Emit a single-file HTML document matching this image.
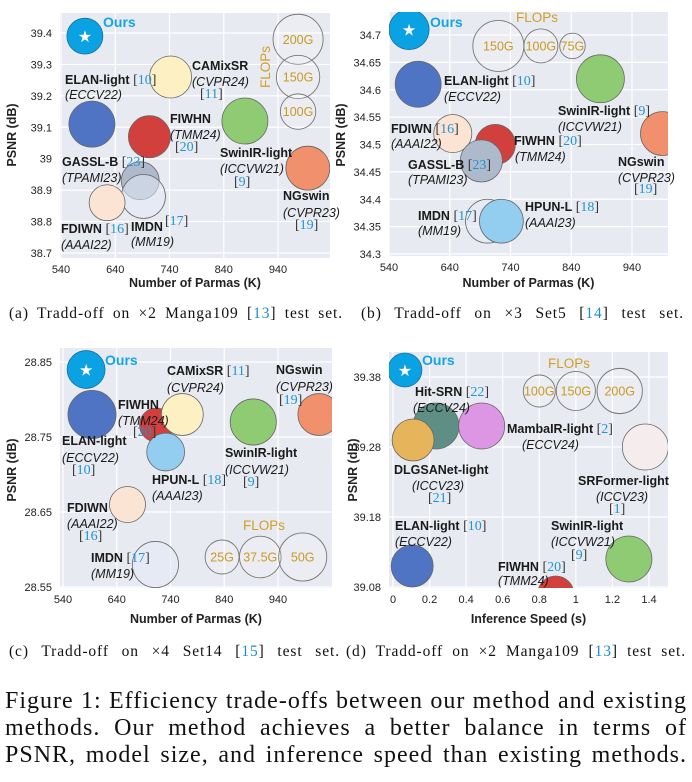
<!DOCTYPE html>
<html><head><meta charset="utf-8"><style>
html,body{margin:0;padding:0;background:#fff;}
#wrap{position:relative;width:692px;height:782px;overflow:hidden;}
svg{display:block;position:absolute;left:0;top:0;}
.tk{font-family:"Liberation Sans",sans-serif;font-size:11px;fill:#222;}
.at{font-family:"Liberation Sans",sans-serif;font-size:12.5px;font-weight:bold;fill:#222;}
.lb{font-family:"Liberation Sans",sans-serif;font-size:12.5px;fill:#1a1a1a;}
.jl{position:absolute;font-family:"Liberation Serif",serif;color:#111;text-align:justify;text-align-last:justify;white-space:normal;}
.jl span.b{color:#1a8fd0;}
.sub{font-size:15.5px;height:18px;line-height:18px;letter-spacing:0.9px;}
.big{font-size:24px;height:27px;line-height:27px;left:5px;width:682px;letter-spacing:1px;}
</style></head><body>
<div id="wrap">
<svg id="fig" width="692" height="782" viewBox="0 0 692 782" xmlns="http://www.w3.org/2000/svg">
<defs>
<clipPath id="clipA"><rect x="60" y="13" width="270" height="245"/></clipPath>
<clipPath id="clipB"><rect x="389" y="12" width="279" height="244"/></clipPath>
<clipPath id="clipC"><rect x="60" y="348" width="272" height="240"/></clipPath>
<clipPath id="clipD"><rect x="389" y="352" width="279" height="236"/></clipPath>
</defs>
</svg>
<div class="jl sub" style="left:9px;top:305px;width:334px">(a) Tradd-off on ×2 Manga109 [<span class="b">13</span>] test set.</div>
<div class="jl sub" style="left:361px;top:305px;width:323px">(b) Tradd-off on ×3 Set5 [<span class="b">14</span>] test set.</div>
<div class="jl sub" style="left:9px;top:643px;width:331px">(c) Tradd-off on ×4 Set14 [<span class="b">15</span>] test set.</div>
<div class="jl sub" style="left:346px;top:643px;width:340px">(d) Tradd-off on ×2 Manga109 [<span class="b">13</span>] test set.</div>
<div class="jl big" style="top:688px">Figure 1: Efficiency trade-offs between our method and existing</div>
<div class="jl big" style="top:715px">methods. Our method achieves a better balance in terms of</div>
<div class="jl big" style="top:742px">PSNR, model size, and inference speed than existing methods.</div>
</div>
<script>
// ---- Panel (a): x2 Manga109, params vs PSNR ----
const aNames=["Ours","ELAN-light","CAMixSR","FIWHN","SwinIR-light","NGswin","GASSL-B","IMDN","FDIWN"];
const aParams=[584,597,742,703,879,995,686,692,625];
const aPSNR=[39.39,39.11,39.26,39.07,39.12,38.97,38.93,38.88,38.86];
const aFlops=[103,169,141,141,169,154,115,154,103];
const aLegendFlops=[200,150,100];
const aLegendX=[977,977,977];
const aLegendY=[39.38,39.26,39.15];
const aXTicks=[540,640,740,840,940];
const aYTicks=[38.7,38.8,38.9,39,39.1,39.2,39.3,39.4];
const aYTickLabels=["38.7","38.8","38.9","39","39.1","39.2","39.3","39.4"];
// ---- Panel (b): x3 Set5 ----
const bNames=["Ours","ELAN-light","SwinIR-light","NGswin","FDIWN","FIWHN","GASSL-B","IMDN","HPUN-L"];
const bParams=[573,588,888,990,645,715,692,702,725];
const bPSNR=[34.71,34.61,34.62,34.52,34.52,34.50,34.47,34.36,34.36];
const bFlops=[118,135,141,129,112,118,124,129,129];
const bLegendFlops=[150,100,75];
const bLegendX=[720,790,842];
const bLegendY=[34.68,34.68,34.68];
const bXTicks=[540,640,740,840,940];
const bYTicks=[34.3,34.35,34.4,34.45,34.5,34.55,34.6,34.65,34.7];
const bYTickLabels=["34.3","34.35","34.4","34.45","34.5","34.55","34.6","34.65","34.7"];
// ---- Panel (c): x4 Set14 ----
const cNames=["Ours","ELAN-light","FIWHN","HPUN-L","CAMixSR","SwinIR-light","NGswin","FDIWN","IMDN"];
const cParams=[583,594,714,731,762,894,1016,660,712];
const cPSNR=[28.84,28.78,28.766,28.73,28.78,28.77,28.78,28.66,28.58];
const cFlops=[31,50,25,31,38,46,38,28,46];
const cLegendFlops=[25,37.5,50];
const cLegendX=[836,907,986];
const cLegendY=[28.59,28.59,28.59];
const cXTicks=[540,640,740,840,940];
const cYTicks=[28.55,28.65,28.75,28.85];
const cYTickLabels=["28.55","28.65","28.75","28.85"];
// ---- Panel (d): x2 Manga109, inference speed ----
const dNames=["Ours","Hit-SRN","DLGSANet-light","MambaIR-light","SRFormer-light","ELAN-light","SwinIR-light","FIWHN"];
const dSpeed=[0.065,0.235,0.11,0.485,1.38,0.105,1.29,0.89];
const dPSNR=[39.39,39.31,39.29,39.31,39.28,39.11,39.12,39.07];
const dFlops=[113,207,172,207,207,172,207,127];
const dLegendFlops=[100,150,200];
const dLegendX=[0.80,1.0,1.24];
const dLegendY=[39.36,39.36,39.36];
const dXTicks=[0,0.2,0.4,0.6,0.8,1,1.2,1.4];
const dYTicks=[39.08,39.18,39.28,39.38];
const dYTickLabels=["39.08","39.18","39.28","39.38"];

const NS="http://www.w3.org/2000/svg";
const svg=document.getElementById('fig');
function mk(tag,attrs,parent){const e=document.createElementNS(NS,tag);for(const k in attrs)e.setAttribute(k,attrs[k]);(parent||svg).appendChild(e);return e;}
function lin(d0,p0,d1,p1){return v=>p0+(v-d0)*(p1-p0)/(d1-d0);}

const fillMap={"Ours":"#0aa2e2","ELAN-light":"#4f74c4","CAMixSR":"#fdf0c2","FIWHN":"#d2403e","SwinIR-light":"#8fcb72","NGswin":"#f0906c","GASSL-B":"#aebacb","IMDN":"rgba(225,233,245,0.55)","FDIWN":"#fbe4d4","HPUN-L":"#93cdef","Hit-SRN":"#5f8f84","DLGSANet-light":"#e6b45a","MambaIR-light":"#dc96e4","SRFormer-light":"#f5eded"};

function panel(p){
  const g=mk('g',{});
  
  
  const bg=mk('rect',{x:p.box[0],y:p.box[1],width:p.box[2]-p.box[0],height:p.box[3]-p.box[1],fill:'#e8eaf1'},g);
  
  
  p.xt.forEach((t,i)=>{
    const x=p.xs(t);
    const l=mk('line',{x1:x,x2:x,y1:p.box[1],y2:p.box[3],stroke:'#fff','stroke-width':1.2},g);
    
    
    const tx=mk('text',{x:x,y:p.box[3]+15,'text-anchor':'middle',class:'tk'},g);
    tx.textContent=p.xtl[i];
    
    
  });
  p.yt.forEach((t,i)=>{
    const y=p.ys(t);
    const l=mk('line',{x1:p.box[0],x2:p.box[2],y1:y,y2:y,stroke:'#fff','stroke-width':1.2},g);
    
    
    const tx=mk('text',{x:p.box[0]-8,y:y+4,'text-anchor':'end',class:'tk'},g);
    tx.textContent=p.ytl[i];
    
    
  });
  const xt=mk('text',{x:(p.box[0]+p.box[2])/2,y:p.xTitleY,'text-anchor':'middle',class:'at'},g);
  xt.textContent=p.xTitle;
  
  
  const yt=mk('text',{x:0,y:0,'text-anchor':'middle',class:'at',transform:`translate(${p.yTitleX},${p.yTitleY}) rotate(-90)`},g);
  yt.textContent='PSNR (dB)';
  
  
  const cg=mk('g',{'clip-path':`url(#${p.clip})`},g);
  p.lf.forEach((f,i)=>{
    const cx=p.xs(p.lx[i]),cy=p.ys(p.ly[i]);
    const c=mk('circle',{cx:cx,cy:cy,r:p.r(f),fill:'rgba(255,255,255,0.15)',stroke:'#777','stroke-width':0.9},cg);
    
    
    const t=mk('text',{x:cx,y:cy+4.5,'text-anchor':'middle',fill:'#c99a22','font-family':'Liberation Sans, sans-serif','font-size':12.5},g);
    t.textContent=f+'G';
    
    
  });
  p.names.forEach((n,i)=>{
    const cx=p.xs(p.xv[i]),cy=p.ys(p.yv[i]);
    const c=mk('circle',{cx:cx,cy:cy,r:p.r(p.f[i]),fill:fillMap[n],stroke:n==='Ours'?'#1a6f9a':'#666','stroke-width':0.8},cg);
    
    
    if(n==='Ours'){
      const s=mk('text',{x:cx,y:cy+6,'text-anchor':'middle',fill:'#fff','font-family':'DejaVu Sans, sans-serif','font-size':16},cg);
      s.textContent='★';
      
      
    }
  });
}

panel({id:'panel-a',box:[60,13,330,258],xs:lin(540,61,940,278),ys:lin(39.4,33,38.7,253),xt:aXTicks,xtl:aXTicks.map(String),yt:aYTicks,ytl:aYTickLabels,
  xTitle:'Number of Parmas (K)',xTitleY:287,yTitleX:16,yTitleY:135,clip:'clipA',
  lf:aLegendFlops,lx:aLegendX,ly:aLegendY,names:aNames,xv:aParams,yv:aPSNR,f:aFlops,r:f=>1.77*Math.sqrt(f)});
panel({id:'panel-b',box:[389,12,668,256],xs:lin(540,389,940,632),ys:lin(34.7,35,34.3,254),xt:bXTicks,xtl:bXTicks.map(String),yt:bYTicks,ytl:bYTickLabels,
  xTitle:'Number of Parmas (K)',xTitleY:287,yTitleX:345,yTitleY:135,clip:'clipB',
  lf:bLegendFlops,lx:bLegendX,ly:bLegendY,names:bNames,xv:bParams,yv:bPSNR,f:bFlops,r:f=>0.17*f});
panel({id:'panel-c',box:[60,348,332,588],xs:lin(540,63,940,278),ys:lin(28.85,362,28.55,587),xt:cXTicks,xtl:cXTicks.map(String),yt:cYTicks,ytl:cYTickLabels,
  xTitle:'Number of Parmas (K)',xTitleY:623,yTitleX:16,yTitleY:470,clip:'clipC',
  lf:cLegendFlops,lx:cLegendX,ly:cLegendY,names:cNames,xv:cParams,yv:cPSNR,f:cFlops,r:f=>3.4*Math.sqrt(f)});
panel({id:'panel-d',box:[389,352,668,588],xs:lin(0,393,1.4,649),ys:lin(39.38,377,39.08,587),xt:dXTicks,xtl:dXTicks.map(String),yt:dYTicks,ytl:dYTickLabels,
  xTitle:'Inference Speed (s)',xTitleY:623,yTitleX:357,yTitleY:470,clip:'clipD',
  lf:dLegendFlops,lx:dLegendX,ly:dLegendY,names:dNames,xv:dSpeed,yv:dPSNR,f:dFlops,r:f=>1.6*Math.sqrt(f)});

function lab(x,y,parts){
  const t=mk('text',{x:x,y:y,class:'lb'});
  
  
  parts.forEach(p=>{
    if(p[0]==='c'){
      const a=mk('tspan',{'font-family':'Liberation Serif, serif','font-size':14,fill:'#333'},t);a.textContent=' [';
      const b=mk('tspan',{'font-family':'Liberation Serif, serif','font-size':14,fill:'#1e95d4'},t);b.textContent=p[1];
      const c=mk('tspan',{'font-family':'Liberation Serif, serif','font-size':14,fill:'#333'},t);c.textContent=']';
    }else{
      const s=mk('tspan',p[0]==='b'?{'font-weight':'bold'}:{'font-style':'italic'},t);s.textContent=p[1];
    }
  });
}
function ours(x,y){const t=mk('text',{x:x,y:y,fill:'#13a5e3','font-family':'Liberation Sans, sans-serif','font-size':14,'font-weight':'bold'});t.textContent='Ours';

}
function flopsT(x,y,rot){const t=mk('text',{x:0,y:0,fill:'#cf9f25','font-family':'Liberation Sans, sans-serif','font-size':13.5,transform:`translate(${x},${y})`+(rot?' rotate(-90)':'')});t.textContent='FLOPs';

}
// a
ours(103,27);flopsT(270,88,true);
lab(65,84,[['b','ELAN-light'],['c','10']]);lab(65,99,[['i','(ECCV22)']]);
lab(192,70,[['b','CAMixSR']]);lab(192,86,[['i','(CVPR24)']]);lab(200,98,[['c','11']]);
lab(170,123,[['b','FIWHN']]);lab(170,139,[['i','(TMM24)']]);lab(175,151,[['c','20']]);
lab(220,157,[['b','SwinIR-light']]);lab(220,173,[['i','(ICCVW21)']]);lab(234,186,[['c','9']]);
lab(283,200,[['b','NGswin']]);lab(283,217,[['i','(CVPR23)']]);lab(295,229,[['c','19']]);
lab(62,166,[['b','GASSL-B'],['c','23']]);lab(62,182,[['i','(TPAMI23)']]);
lab(61,233,[['b','FDIWN'],['c','16']]);lab(61,249,[['i','(AAAI22)']]);
lab(131,231,[['b','IMDN']]);lab(131,246,[['i','(MM19)']]);lab(165,225,[['c','17']]);
// b
ours(430,27);flopsT(516,22,false);
lab(444,85,[['b','ELAN-light'],['c','10']]);lab(444,101,[['i','(ECCV22)']]);
lab(558,115,[['b','SwinIR-light'],['c','9']]);lab(558,131,[['i','(ICCVW21)']]);
lab(618,166,[['b','NGswin']]);lab(618,182,[['i','(CVPR23)']]);lab(634,193,[['c','19']]);
lab(391,133,[['b','FDIWN'],['c','16']]);lab(391,148,[['i','(AAAI22)']]);
lab(514,145,[['b','FIWHN'],['c','20']]);lab(515,161,[['i','(TMM24)']]);
lab(408,169,[['b','GASSL-B'],['c','23']]);lab(408,184,[['i','(TPAMI23)']]);
lab(418,220,[['b','IMDN'],['c','17']]);lab(418,235,[['i','(MM19)']]);
lab(525,211,[['b','HPUN-L'],['c','18']]);lab(525,227,[['i','(AAAI23)']]);
// c
ours(105,365);flopsT(243,530,false);
lab(167,375,[['b','CAMixSR'],['c','11']]);lab(167,392,[['i','(CVPR24)']]);
lab(276,374,[['b','NGswin']]);lab(276,391,[['i','(CVPR23)']]);lab(279,404,[['c','19']]);
lab(118,409,[['b','FIWHN']]);lab(118,425,[['i','(TMM24)']]);lab(133,436,[['c','20']]);
lab(62,445,[['b','ELAN-light']]);lab(62,462,[['i','(ECCV22)']]);lab(72,474,[['c','10']]);
lab(225,457,[['b','SwinIR-light']]);lab(225,474,[['i','(ICCVW21)']]);lab(243,486,[['c','9']]);
lab(152,484,[['b','HPUN-L'],['c','18']]);lab(152,500,[['i','(AAAI23)']]);
lab(67,512,[['b','FDIWN']]);lab(67,528,[['i','(AAAI22)']]);lab(79,540,[['c','16']]);
lab(91,562,[['b','IMDN'],['c','17']]);lab(91,578,[['i','(MM19)']]);
// d
ours(422,365);flopsT(548,368,false);
lab(415,396,[['b','Hit-SRN'],['c','22']]);lab(413,412,[['i','(ECCV24)']]);
lab(507,433,[['b','MambaIR-light'],['c','2']]);lab(522,449,[['i','(ECCV24)']]);
lab(394,474,[['b','DLGSANet-light']]);lab(412,490,[['i','(ICCV23)']]);lab(428,502,[['c','21']]);
lab(578,485,[['b','SRFormer-light']]);lab(596,501,[['i','(ICCV23)']]);lab(609,513,[['c','1']]);
lab(395,530,[['b','ELAN-light'],['c','10']]);lab(395,546,[['i','(ECCV22)']]);
lab(551,530,[['b','SwinIR-light']]);lab(551,546,[['i','(ICCVW21)']]);lab(571,559,[['c','9']]);
lab(498,571,[['b','FIWHN'],['c','20']]);lab(498,585,[['i','(TMM24)']]);
</script>
</body></html>
